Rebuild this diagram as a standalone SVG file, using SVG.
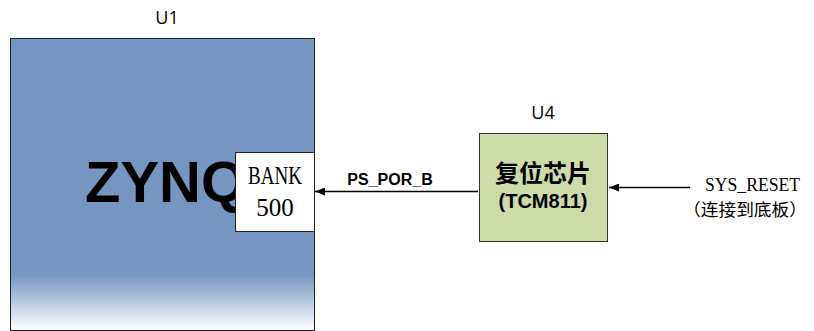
<svg xmlns="http://www.w3.org/2000/svg" width="814" height="331" viewBox="0 0 814 331">
<style>
.lbl{font-family:"Open Sans","Liberation Sans",sans-serif;font-size:18px;fill:#000;text-anchor:middle}
.conn{stroke:#000;stroke-width:1.5;fill:none}
.serif{font-family:"Liberation Serif",serif}
</style>
<defs>
<linearGradient id="g1" x1="0" y1="0" x2="0" y2="1">
<stop offset="0" stop-color="#7596c0"/>
<stop offset="0.81" stop-color="#7596c0"/>
<stop offset="1" stop-color="#ffffff"/>
</linearGradient>
<marker id="ah" viewBox="0 0 10 8" refX="10" refY="4" markerWidth="10" markerHeight="8" markerUnits="userSpaceOnUse" orient="auto">
<path d="M0,0 L10,4 L0,8 Z" fill="#000"/>
</marker>
</defs>
<rect width="814" height="331" fill="#fff"/>
<g id="U1">
<text class="lbl" x="167" y="24">U1</text>
<rect x="10.5" y="38.5" width="304" height="292" fill="url(#g1)" stroke="#222" stroke-width="1"/>
<text x="85" y="202" font-family="'Liberation Sans',Arial,sans-serif" font-weight="bold" font-size="58">ZYNQ</text>
</g>
<g id="BANK500">
<rect x="235.5" y="152.5" width="79" height="79" fill="#fff" stroke="#222" stroke-width="1"/>
<text class="serif" x="248" y="184" font-size="25" textLength="54" lengthAdjust="spacingAndGlyphs">BANK</text>
<text class="serif" x="275" y="216" font-size="25" text-anchor="middle">500</text>
</g>
<g id="U4">
<text class="lbl" x="543" y="119">U4</text>
<rect x="479.5" y="133.5" width="128" height="108" fill="#cddba9" stroke="#333" stroke-width="1"/>
<text x="543" y="182" font-family="'Noto Sans CJK SC',sans-serif" font-weight="bold" font-size="24" text-anchor="middle">复位芯片</text>
<text x="543" y="208" font-family="'Liberation Sans',Arial,sans-serif" font-weight="bold" font-size="20" text-anchor="middle">(TCM811)</text>
</g>
<g id="SYS_RESET">
<text class="serif" x="705" y="191" font-size="19" textLength="95" lengthAdjust="spacingAndGlyphs">SYS_RESET</text>
<text x="683" y="216" font-family="'Noto Sans CJK SC',sans-serif" font-size="17" textLength="124" lengthAdjust="spacingAndGlyphs">（连接到底板）</text>
</g>
<g id="connectors">
<line class="conn" x1="478" y1="191.5" x2="315" y2="191.5" marker-end="url(#ah)"/>
<text x="390" y="185" font-family="'Liberation Sans',Arial,sans-serif" font-weight="bold" font-size="16" text-anchor="middle">PS_POR_B</text>
<line class="conn" x1="690" y1="187.5" x2="609" y2="187.5" marker-end="url(#ah)"/>
</g>
</svg>
